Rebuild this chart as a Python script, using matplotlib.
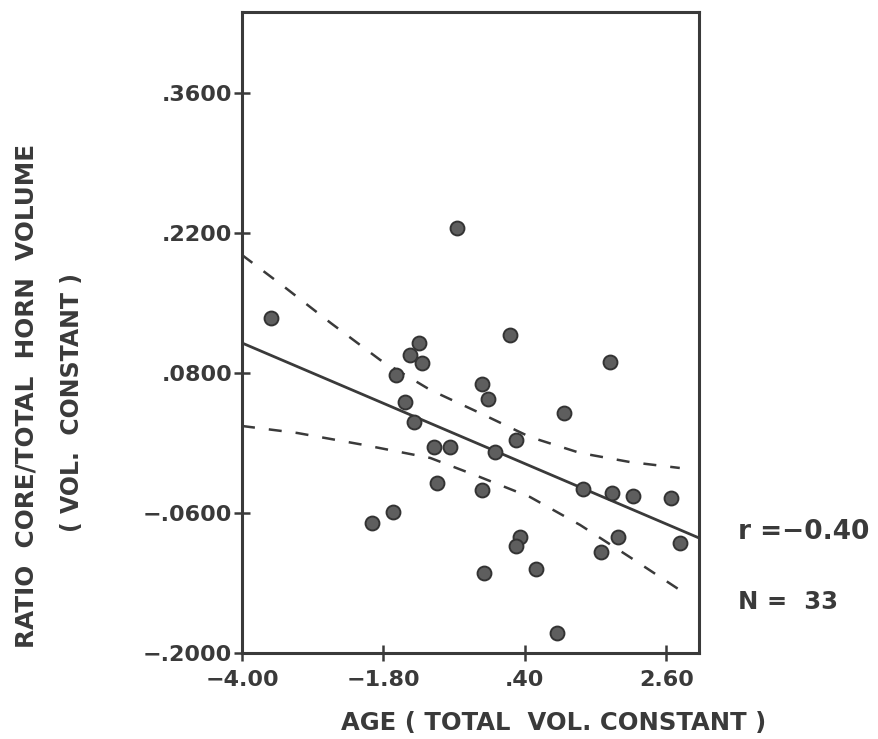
import matplotlib
matplotlib.use("Agg")
import matplotlib.pyplot as plt

# age (total vol. constant) vs ratio core/total horn volume
age = [-0.66, -3.55, 0.17, -1.25, -1.38, -1.20, -1.61, 1.72, -0.27, -0.17,
       -1.46, -1.33, 1.01, 0.27, -1.01, -0.77, -0.06, -0.97, -0.26, 1.30,
       1.76, 2.08, 2.68, -1.65, -1.97, 0.33, 0.26, 1.85, 1.58, 2.81,
       -0.24, 0.57, 0.90]
ratio = [0.225, 0.135, 0.118, 0.110, 0.098, 0.090, 0.078, 0.091, 0.069, 0.054,
         0.051, 0.031, 0.040, 0.013, 0.006, 0.006, 0.001, -0.030, -0.037, -0.036,
         -0.040, -0.043, -0.045, -0.059, -0.070, -0.084, -0.093, -0.084, -0.099, -0.090,
         -0.120, -0.116, -0.180]

# fitted line and dashed confidence bands
fit_x = [-4.0, 3.11]
fit_y = [0.110, -0.085]
upper_x = [-4.0, -3.34, -2.62, -1.85, -1.07, -0.30, 0.48, 1.26, 2.03, 2.81]
upper_y = [0.198, 0.166, 0.130, 0.093, 0.063, 0.040, 0.016, 0.000, -0.009, -0.015]
lower_x = [-4.0, -3.14, -2.10, -1.07, -0.30, 0.48, 1.26, 2.03, 2.81]
lower_y = [0.027, 0.020, 0.008, -0.005, -0.024, -0.044, -0.072, -0.104, -0.137]

xticks = [-4.0, -1.8, 0.4, 2.6]
xtick_labels = ["\u22124.00", "\u22121.80", ".40", "2.60"]
yticks = [-0.20, -0.06, 0.08, 0.22, 0.36]
ytick_labels = ["\u2212.2000", "\u2212.0600", ".0800", ".2200", ".3600"]

INK = "#3a3a3a"
plt.rcParams["font.family"] = "DejaVu Sans"

fig = plt.figure(figsize=(8.79, 7.39), dpi=100)
ax = fig.add_axes([0.2753, 0.1164, 0.520, 0.8674])

ax.plot(fit_x, fit_y, color=INK, lw=2.0, zorder=2)
for bx, by in ((upper_x, upper_y), (lower_x, lower_y)):
    ax.plot(bx, by, color=INK, lw=1.8, dashes=(5.2, 5.6), zorder=2)

ax.scatter(age, ratio, s=100, facecolor="#5e5e5e", edgecolor="#333333",
           linewidth=1.4, zorder=3)

ax.set_xlim(-4.0, 3.11)
ax.set_ylim(-0.2, 0.441)
ax.set_xticks(xticks)
ax.set_xticklabels(xtick_labels)
ax.set_yticks(yticks)
ax.set_yticklabels(ytick_labels)
ax.tick_params(direction="inout", length=12, width=1.8, color=INK,
               labelsize=16, labelcolor=INK, pad=1)
ax.tick_params(axis="x", pad=6)
for lbl in ax.get_xticklabels() + ax.get_yticklabels():
    lbl.set_fontweight("bold")
for sp in ax.spines.values():
    sp.set_linewidth(2.2)
    sp.set_color(INK)

# axis titles placed as in the original lettering
fig.text(554 / 879, 1 - 723 / 739, "AGE ( TOTAL  VOL. CONSTANT )",
         ha="center", va="center", fontsize=17.5, fontweight="bold", color=INK)
fig.text(27 / 879, 1 - 396 / 739, "RATIO  CORE/TOTAL  HORN  VOLUME",
         ha="center", va="center", rotation=90, fontsize=17.8, fontweight="bold", color=INK)
fig.text(72 / 879, 1 - 402 / 739, "( VOL.  CONSTANT )",
         ha="center", va="center", rotation=90, fontsize=17, fontweight="bold", color=INK)

fig.text(738 / 879, 1 - 532 / 739, "r =\u22120.40", ha="left", va="center",
         fontsize=19, fontweight="bold", color=INK)
fig.text(738 / 879, 1 - 602 / 739, "N =  33", ha="left", va="center",
         fontsize=17.5, fontweight="bold", color=INK)

fig.savefig("out.png", dpi=100, facecolor="white")
